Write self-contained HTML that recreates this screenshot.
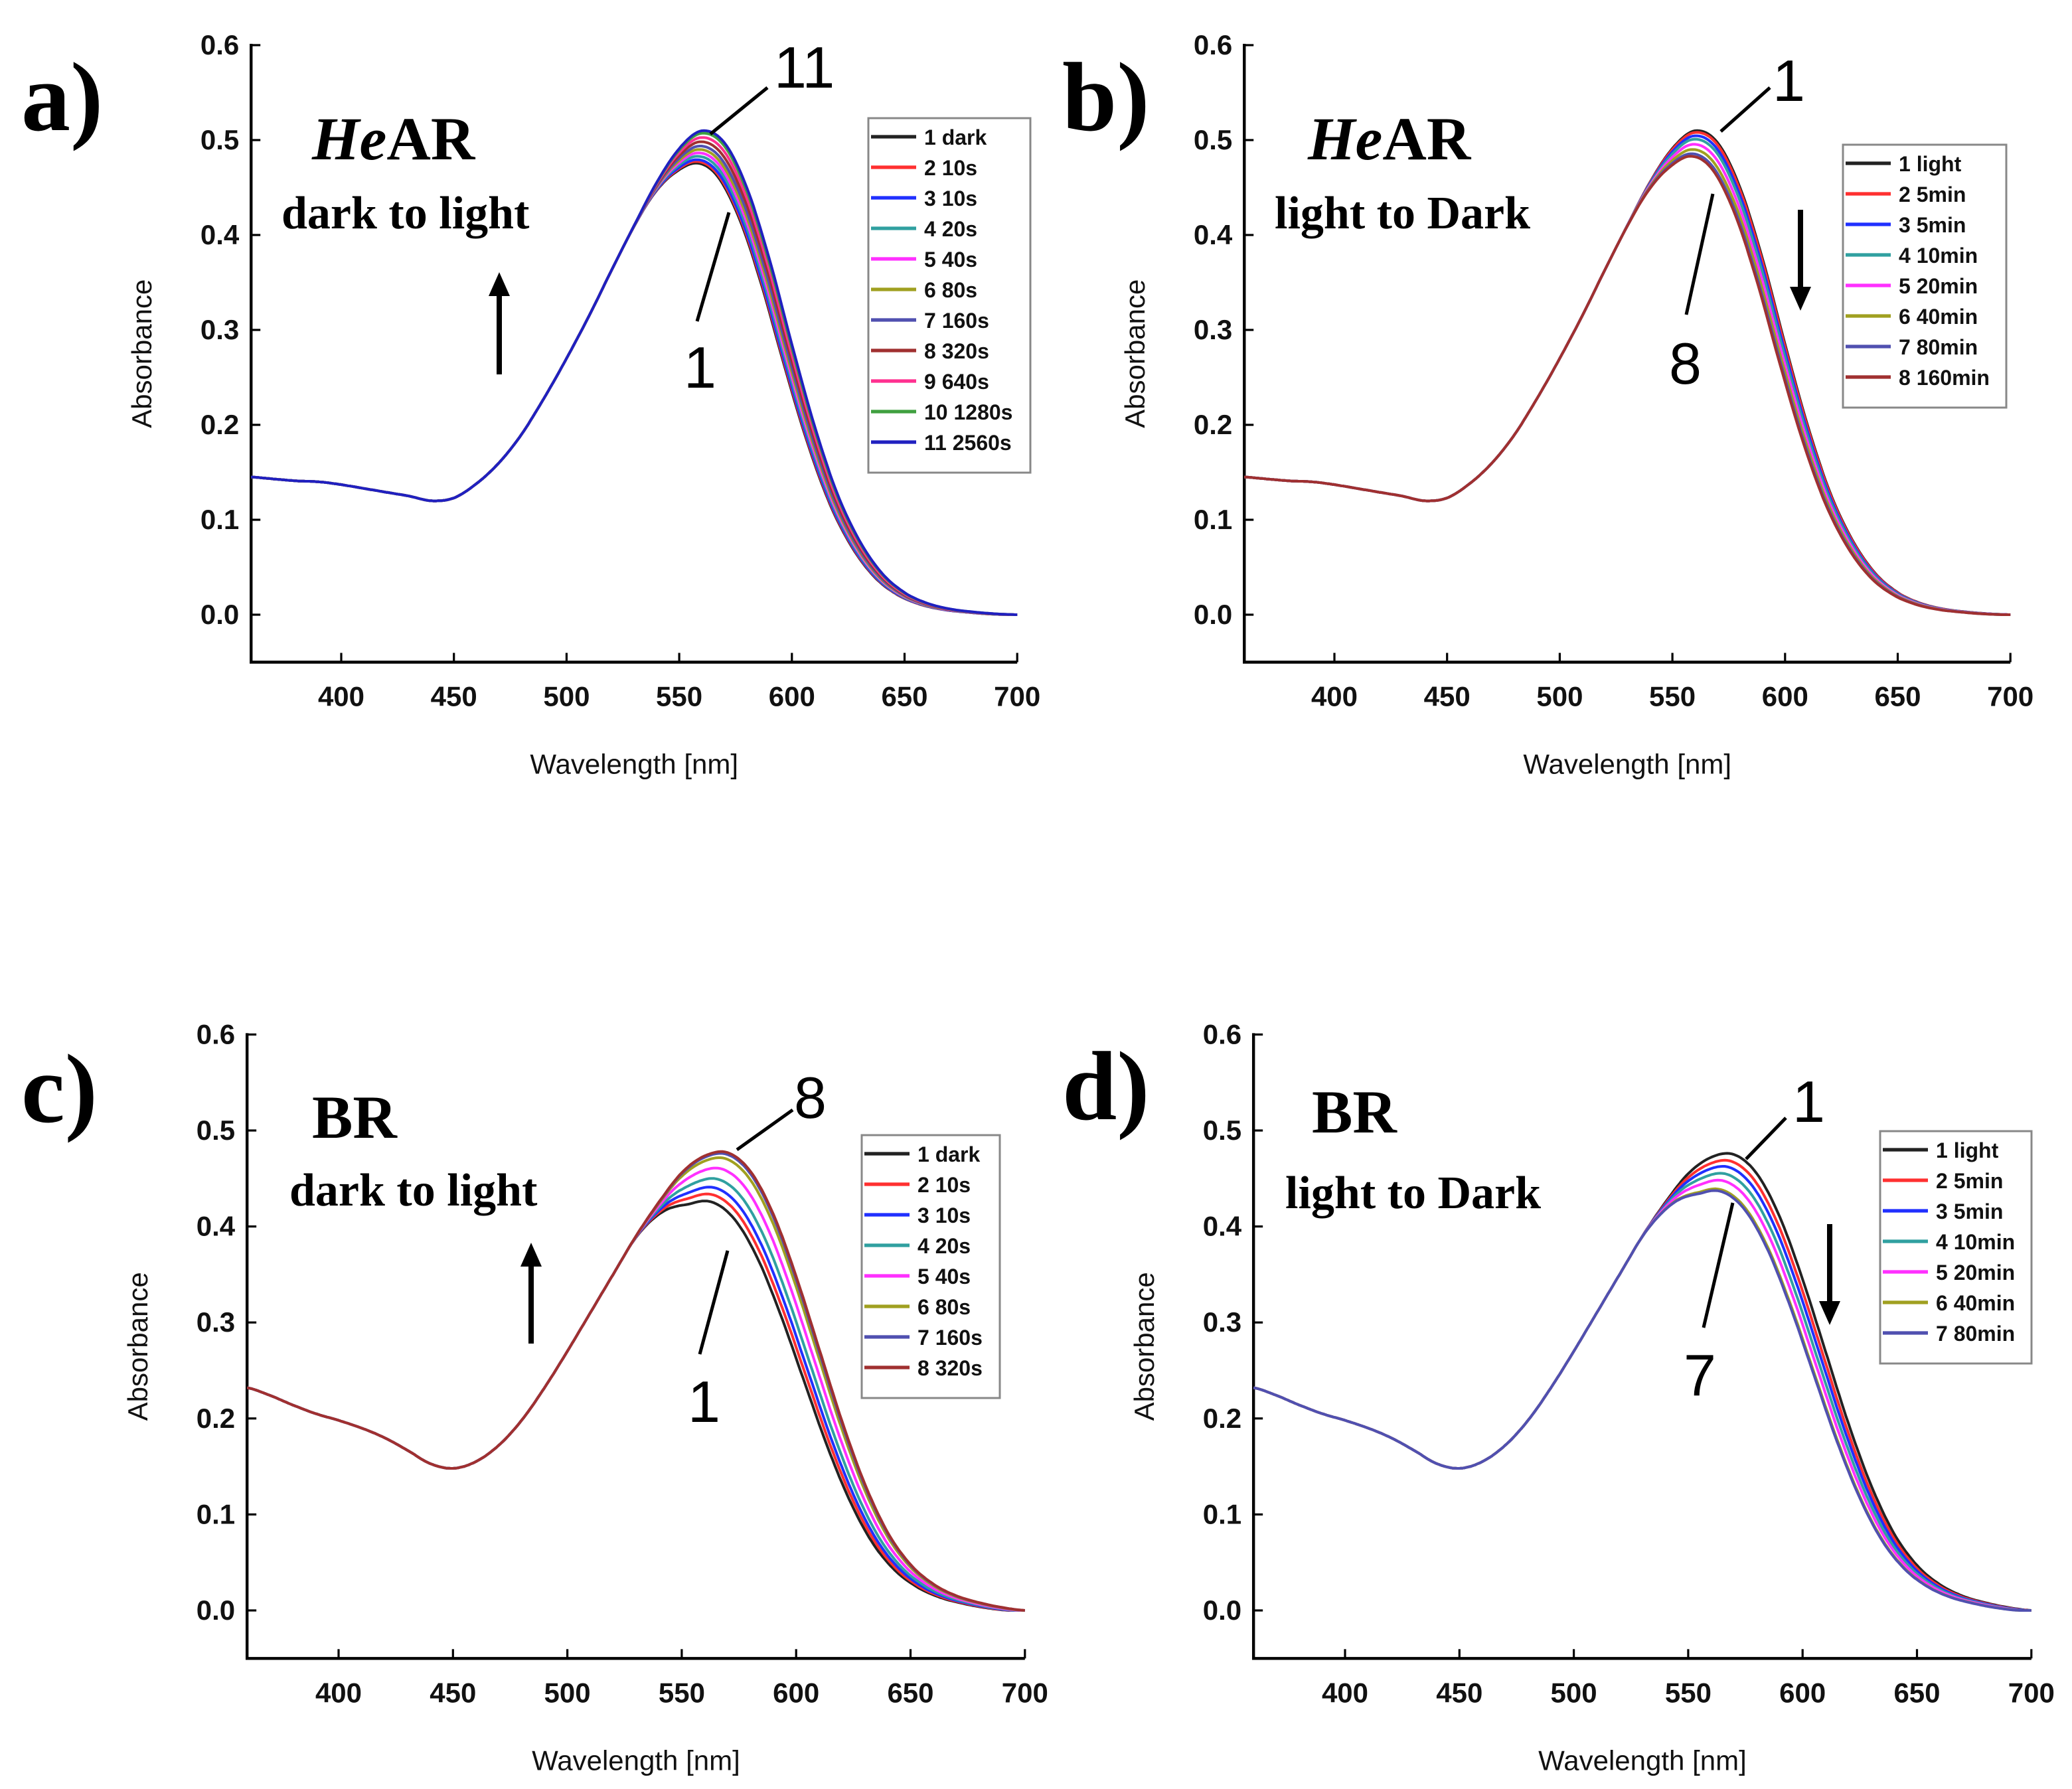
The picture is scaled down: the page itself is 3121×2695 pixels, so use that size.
<!DOCTYPE html>
<html><head><meta charset="utf-8"><style>
html,body{margin:0;padding:0;background:#fff;}
svg{display:block;}
.tk{font-family:"Liberation Sans",sans-serif;font-size:21px;font-weight:bold;fill:#111;}
.lab{font-family:"Liberation Sans",sans-serif;font-size:21px;fill:#111;}
.lg{font-family:"Liberation Sans",sans-serif;font-size:16px;font-weight:bold;fill:#111;}
.pl{font-family:"Liberation Serif",serif;font-size:74px;font-weight:bold;fill:#000;}
.ti{font-family:"Liberation Serif",serif;font-size:46px;font-weight:bold;fill:#000;}
.sub{font-family:"Liberation Serif",serif;font-size:35px;font-weight:bold;fill:#000;}
.ann{font-family:"Liberation Sans",sans-serif;font-size:44px;fill:#000;}
</style></head><body>
<svg id="fig" width="3121" height="2695" viewBox="0 0 1560.5 1347.5" xmlns="http://www.w3.org/2000/svg"></svg>
<script>
// ---- data ----
const wavelengths = [360,370,380,390,400,410,420,430,440,450,460,470,480,490,500,510,520,530,540,550,560,570,580,590,600,610,620,630,640,650,660,670,680,690,700];
const hearBase = [.145,.143,.141,.140,.137,.133,.129,.125,.120,.123,.138,.160,.190,.228,.270,.315,.363,.410,.455,.490,.508,.495,.447,.372,.282,.197,.127,.077,.043,.023,.012,.006,.003,.001,0];
const brBase = [.232,.224,.214,.205,.198,.190,.180,.167,.153,.148,.155,.172,.198,.232,.270,.310,.350,.390,.425,.455,.472,.475,.455,.410,.345,.270,.195,.130,.080,.047,.027,.015,.008,.003,0];
const aLabels = ["1 dark","2 10s","3 10s","4 20s","5 40s","6 80s","7 160s","8 320s","9 640s","10 1280s","11 2560s"];
const aPeaks = [0.472,0.474,0.476,0.480,0.484,0.488,0.492,0.497,0.502,0.507,0.510];
const bLabels = ["1 light","2 5min","3 5min","4 10min","5 20min","6 40min","7 80min","8 160min"];
const bPeaks = [0.510,0.508,0.504,0.500,0.494,0.488,0.483,0.480];
const cLabels = ["1 dark","2 10s","3 10s","4 20s","5 40s","6 80s","7 160s","8 320s"];
const cPeaks = [0.420,0.428,0.436,0.446,0.458,0.470,0.475,0.477];
const dLabels = ["1 light","2 5min","3 5min","4 10min","5 20min","6 40min","7 80min"];
const dPeaks = [0.475,0.467,0.460,0.452,0.444,0.434,0.432];
const yTicks = [0.0,0.1,0.2,0.3,0.4,0.5,0.6];
const xTicks = [400,450,500,550,600,650,700];
const colors = ["#222","#ff3030","#2030ff","#30a0a0","#ff30ff","#a0a020","#5050b0","#a03030","#ff3090","#40a040","#2020c0"];

const NS="http://www.w3.org/2000/svg";
const svg=document.getElementById('fig');
function mk(tag,attrs,parent){const e=document.createElementNS(NS,tag);for(const k in attrs)e.setAttribute(k,attrs[k]);(parent||svg).appendChild(e);return e;}
function interp(arr,w){
  if(w<=360)return arr[0];if(w>=700)return arr[arr.length-1];
  const n=arr.length;const i=Math.min(n-2,Math.floor((w-360)/10));const t=(w-360)/10-i;
  const p0=arr[Math.max(0,i-1)],p1=arr[i],p2=arr[i+1],p3=arr[Math.min(n-1,i+2)];
  return 0.5*((2*p1)+(-p0+p2)*t+(2*p0-5*p1+4*p2-p3)*t*t+(-p0+3*p1-3*p2+p3)*t*t*t);
}

function panel(p){
  const g=mk('g',{});
  
  
  const X=w=>p.x400+(w-400)*p.sx;
  const Y=v=>p.y0-v*p.sy;
  const left=X(360), bottom=Y(-0.05), top=Y(0.6), right=X(700);
  const ax=mk('path',{d:`M${left},${top-1} L${left},${bottom} L${right},${bottom}`,fill:'none',stroke:'#000','stroke-width':2.2},g);
  
  
  yTicks.forEach(t=>{
    mk('line',{x1:left,x2:left+7,y1:Y(t),y2:Y(t),stroke:'#000','stroke-width':1.6},g);
    const tx=mk('text',{x:left-9,y:Y(t)+7,'text-anchor':'end',class:'tk'},g);tx.textContent=t.toFixed(1);
    
    
  });
  xTicks.forEach(t=>{
    mk('line',{x1:X(t),x2:X(t),y1:bottom,y2:bottom-7,stroke:'#000','stroke-width':1.6},g);
    const tx=mk('text',{x:X(t),y:bottom+33,'text-anchor':'middle',class:'tk'},g);tx.textContent=t;
    
    
  });
  const yl=mk('text',{x:0,y:0,'text-anchor':'middle',class:'lab',transform:`translate(${left-75},${(top+bottom)/2}) rotate(-90)`},g);yl.textContent='Absorbance';
  
  
  const xl=mk('text',{x:(left+right)/2,y:bottom+84,'text-anchor':'middle',class:'lab'},g);xl.textContent='Wavelength [nm]';
  
  
  const baseMax=Math.max(...p.base);
  p.peaks.forEach((pk,i)=>{
    const r=pk/baseMax;
    const sh=(1-r)*p.shift;
    let d='';
    for(let w=360;w<=700;w+=1){
      const t=Math.min(1,Math.max(0,(w-p.iso)/30));
      const ts=t*t*(3-2*t);
      const v=interp(p.base,w)*(1-ts)+interp(p.base,w+sh)*(1-(1-r)*0.9)*ts;
      d+=(w===360?'M':'L')+X(w).toFixed(1)+','+Y(v).toFixed(1);
    }
    const pa=mk('path',{d:d,fill:'none',stroke:colors[i],'stroke-width':2,'stroke-linejoin':'round'},g);
    
    
  });
  const lg=mk('g',{},g);
  
  
  mk('rect',{x:p.lx,y:p.ly,width:p.lw,height:p.labels.length*23+14,fill:'#fff',stroke:'#888','stroke-width':1.5},lg);
  p.labels.forEach((l,i)=>{
    const yy=p.ly+14+i*23;
    mk('line',{x1:p.lx+2,x2:p.lx+36,y1:yy,y2:yy,stroke:colors[i],'stroke-width':2.6},lg);
    const t=mk('text',{x:p.lx+42,y:yy+6,class:'lg'},lg);t.textContent=l;
    
    
  });
  const pl=mk('text',{x:p.plx,y:p.ply,class:'pl'},g);pl.textContent=p.id+')';
  
  
  const ti=mk('text',{x:p.tx,y:p.ty,class:'ti'},g);
  
  
  if(p.hear){const s=mk('tspan',{'font-style':'italic'},ti);s.textContent='He';const s2=mk('tspan',{},ti);s2.textContent='AR';}else ti.textContent='BR';
  const su=mk('text',{x:p.sxp,y:p.syp,class:'sub'},g);su.textContent=p.sub;
  
  
  const ar=mk('g',{},g);
  
  
  const [axx,ay1,ay2]=p.arrow; const dir=ay2<ay1?-1:1;
  mk('line',{x1:axx,x2:axx,y1:ay1,y2:ay2-dir*14,stroke:'#000','stroke-width':4},ar);
  mk('polygon',{points:`${axx-8},${ay2-dir*18} ${axx+8},${ay2-dir*18} ${axx},${ay2}`,fill:'#000'},ar);
  p.ann.forEach(a=>{
    mk('line',{x1:a[2],y1:a[3],x2:a[4],y2:a[5],stroke:'#000','stroke-width':2.5},g);
    const t=mk('text',{x:a[0],y:a[1],class:'ann'},g);t.textContent=a[6];
    
    
  });
}
panel({id:'a',hear:true,x400:257,sx:1.697,y0:463,sy:715,base:hearBase,peaks:aPeaks,labels:aLabels,iso:525,shift:50,
  lx:654,ly:89,lw:122,plx:16,ply:98,tx:235,ty:120,sxp:212,syp:172,sub:'dark to light',arrow:[376,282,205],
  ann:[[583,66,578,66,535,101,'11'],[515,292,525,242,549,160,'1']]});
panel({id:'b',hear:true,x400:1005,sx:1.697,y0:463,sy:715,base:hearBase,peaks:bPeaks,labels:bLabels,iso:525,shift:50,
  lx:1388,ly:109,lw:123,plx:800,ply:98,tx:985,ty:120,sxp:960,syp:172,sub:'light to Dark',arrow:[1356,158,234],
  ann:[[1335,76,1333,66,1296,99,'1'],[1257,289,1270,237,1290,146,'8']]});
panel({id:'c',hear:false,x400:255,sx:1.723,y0:1213,sy:723,base:brBase,peaks:cPeaks,labels:cLabels,iso:525,shift:60,
  lx:649,ly:855,lw:104,plx:16,ply:845,tx:235,ty:857,sxp:218,syp:908,sub:'dark to light',arrow:[400,1012,936],
  ann:[[598,842,597,836,555,866,'8'],[518,1071,527,1020,548,942,'1']]});
panel({id:'d',hear:false,x400:1013,sx:1.723,y0:1213,sy:723,base:brBase,peaks:dPeaks,labels:dLabels,iso:527,shift:60,
  lx:1416,ly:852,lw:114,plx:800,ply:843,tx:988,ty:853,sxp:968,syp:910,sub:'light to Dark',arrow:[1378,922,998],
  ann:[[1350,845,1345,842,1315,873,'1'],[1268,1051,1283,1000,1305,906,'7']]});
</script>
</body></html>
